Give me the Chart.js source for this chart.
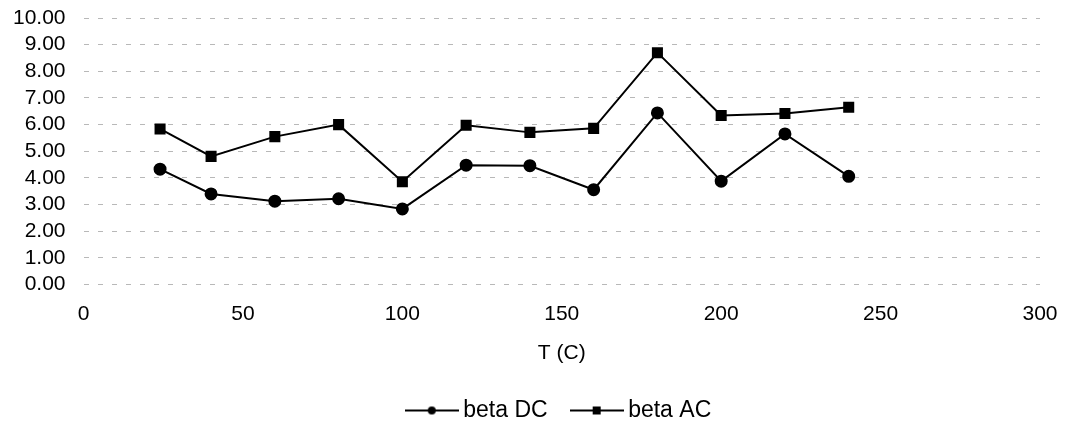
<!DOCTYPE html>
<html>
<head>
<meta charset="utf-8">
<script src="https://cdn.jsdelivr.net/npm/chart.js@4.4.1/dist/chart.umd.min.js"></script>
<style>
  html, body { margin: 0; padding: 0; background: #fff; }
  #wrap { width: 1068px; height: 425px; }
</style>
</head>
<body>
<div id="wrap"><canvas id="betaChart" width="1068" height="425"></canvas></div>
<script>
// temperature points (C)
let temps = [24, 40, 60, 80, 100, 120, 140, 160, 180, 200, 220, 240];
let betaDC = [4.33, 3.40, 3.13, 3.22, 2.84, 4.48, 4.46, 3.56, 6.44, 3.88, 5.65, 4.06];
let betaAC = [5.84, 4.81, 5.55, 6.00, 3.86, 5.98, 5.71, 5.86, 8.70, 6.34, 6.42, 6.65];
let xTicks = [0, 50, 100, 150, 200, 250, 300];
let yTicks = [0, 1, 2, 3, 4, 5, 6, 7, 8, 9, 10];

const FONT = "'Liberation Sans', Arial, sans-serif";

function toXY(xs, ys) {
    let out = [];
    for (let i in xs) {
        out.push({x: xs[i], y: ys[i]});
    }
    return out;
}

// little line-with-marker pictures for the legend
function legendIcon(kind) {
    let c = document.createElement('canvas');
    c.width = 54;
    c.height = 12;
    let g = c.getContext('2d');
    g.strokeStyle = '#000';
    g.lineWidth = 2;
    g.beginPath();
    g.moveTo(0, 6);
    g.lineTo(54, 6);
    g.stroke();
    g.fillStyle = '#000';
    if (kind === 'circle') {
        g.beginPath();
        g.arc(27, 6, 4, 0, Math.PI * 2);
        g.fill();
    } else {
        g.fillRect(23, 2, 8, 8);
    }
    return c;
}

// move the legend a bit right and down
const legendShift = {
    id: 'legendShift',
    afterLayout(chart) {
        let lg = chart.legend;
        lg.left += 35;
        lg.right += 35;
        lg.top += 4;
        lg.bottom += 4;
    }
};

let ctx = document.getElementById('betaChart').getContext('2d');
let myChart = new Chart(ctx, {
    type: 'line',
    data: {
        datasets: [{
            label: 'beta DC',
            data: toXY(temps, betaDC),
            borderColor: '#000',
            backgroundColor: '#000',
            borderWidth: 2,
            pointStyle: 'circle',
            pointRadius: 5.5,
            pointHoverRadius: 5.5,
            pointStyleIcon: legendIcon('circle')
        },
        {
            label: 'beta AC',
            data: toXY(temps, betaAC),
            borderColor: '#000',
            backgroundColor: '#000',
            borderWidth: 2,
            pointStyle: 'rect',
            pointRadius: 6.4,
            pointHoverRadius: 6.4,
            pointStyleIcon: legendIcon('rect')
        }]
    },
    options: {
        responsive: false,
        animation: false,
        layout: {
            padding: {left: 13, right: 28, top: 18, bottom: -3}
        },
        scales: {
            x: {
                type: 'linear',
                min: 0,
                max: 300,
                afterBuildTicks: function (axis) {
                    axis.ticks = xTicks.map(v => ({value: v}));
                },
                // invisible tick marks keep the labels away from the plot
                grid: {
                    color: 'rgba(0,0,0,0)',
                    drawOnChartArea: false,
                    drawTicks: true,
                    tickLength: 17
                },
                border: {display: false},
                ticks: {
                    color: '#000',
                    padding: 0,
                    maxRotation: 0,
                    autoSkip: false,
                    font: {family: FONT, size: 21}
                },
                title: {
                    display: true,
                    text: 'T (C)',
                    color: '#000',
                    padding: {top: 14, bottom: 0},
                    font: {family: FONT, size: 21}
                }
            },
            y: {
                min: 0,
                max: 10,
                afterBuildTicks: function (axis) {
                    axis.ticks = yTicks.map(v => ({value: v}));
                },
                grid: {
                    color: 'rgba(0,0,0,0.28)',
                    lineWidth: 1,
                    drawTicks: true,
                    tickLength: 18,
                    tickColor: 'rgba(0,0,0,0)'
                },
                border: {display: false, dash: [5, 9]},
                ticks: {
                    color: '#000',
                    padding: 0,
                    autoSkip: false,
                    font: {family: FONT, size: 21},
                    callback: function (v) { return v.toFixed(2); }
                }
            }
        },
        plugins: {
            legend: {
                position: 'bottom',
                labels: {
                    color: '#000',
                    usePointStyle: true,
                    pointStyleWidth: 40,
                    padding: 29,
                    font: {family: FONT, size: 23},
                    generateLabels: function (chart) {
                        return chart.data.datasets.map((ds, i) => ({
                            text: ds.label,
                            fillStyle: '#000',
                            strokeStyle: '#000',
                            fontColor: '#000',
                            lineWidth: 0,
                            pointStyle: ds.pointStyleIcon,
                            datasetIndex: i
                        }));
                    }
                }
            },
            tooltip: {enabled: false}
        }
    },
    plugins: [legendShift]
});
</script>
</body>
</html>
